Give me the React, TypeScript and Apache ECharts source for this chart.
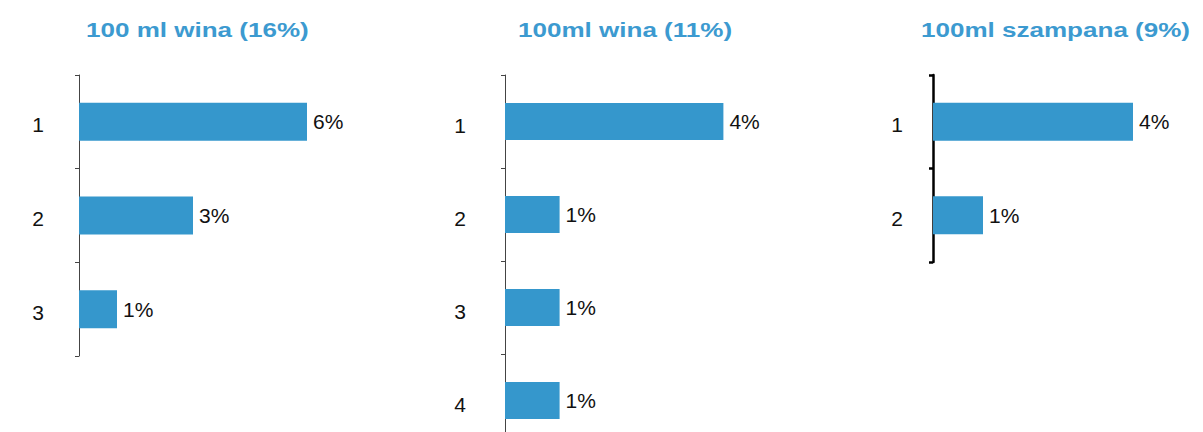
import React, { useEffect, useRef } from "react";
import * as echarts from "echarts";

const titles = ["100 ml wina (16%)", "100ml wina (11%)", "100ml szampana (9%)"];
const categories1 = ["1", "2", "3"];
const values1 = [6, 3, 1];
const categories2 = ["1", "2", "3", "4"];
const values2 = [4, 1, 1, 1];
const categories3 = ["1", "2"];
const values3 = [4, 1];

const BAR = "#3597CC";
const TITLE = "#3C9AD0";
const FONT = '"Liberation Sans", Arial, sans-serif';

export default function App() {
  const ref = useRef<HTMLDivElement>(null);
  useEffect(() => {
    if (!ref.current) return;
    const chart = echarts.init(ref.current, undefined, { renderer: "svg" });

    const panels = [
      { cats: categories1, vals: values1, left: 79, width: 304, max: 8, height: 281, barWidth: 38, margin: 35, shift: 3, lineColor: "#444", lineWidth: 1, titleX: 86 },
      { cats: categories2, vals: values2, left: 505, width: 273, max: 5, height: 372, barWidth: 37, margin: 39, shift: 4, lineColor: "#444", lineWidth: 1, titleX: 518 },
      { cats: categories3, vals: values3, left: 933, width: 250, max: 5, height: 187, barWidth: 38, margin: 30, shift: 3, lineColor: "#000", lineWidth: 2.5, titleX: 921 },
    ];

    const option: any = {
      animation: false,
      backgroundColor: "#fff",
      grid: panels.map((p) => ({
        left: p.left,
        top: 75,
        width: p.width,
        height: p.height,
        containLabel: false,
        outerBoundsMode: "none",
      })),
      xAxis: panels.map((p, i) => ({ type: "value", gridIndex: i, min: 0, max: p.max, show: false })),
      yAxis: panels.map((p, i) => ({
        type: "category",
        gridIndex: i,
        inverse: true,
        data: p.cats,
        axisLine: { show: true, lineStyle: { color: p.lineColor, width: p.lineWidth } },
        axisTick: { show: true, length: 4, lineStyle: { color: p.lineColor, width: p.lineWidth } },
        axisLabel: {
          fontSize: 21,
          fontFamily: FONT,
          color: "#111",
          margin: p.margin,
          verticalAlign: "top",
          lineHeight: p.shift * 2,
        },
        splitLine: { show: false },
      })),
      series: panels.map((p, i) => ({
        type: "bar",
        xAxisIndex: i,
        yAxisIndex: i,
        data: p.vals,
        barWidth: p.barWidth,
        itemStyle: { color: BAR },
        label: {
          show: true,
          position: "right",
          distance: 6,
          formatter: "{c}%",
          fontSize: 21,
          fontFamily: FONT,
          color: "#111",
        },
      })),
      graphic: panels.map((p, i) => ({
        type: "text",
        x: p.titleX,
        y: 29.5,
        scaleX: 1.24,
        style: {
          text: titles[i],
          fontSize: 21,
          fontWeight: "bold",
          fontFamily: FONT,
          fill: TITLE,
          textVerticalAlign: "middle",
          verticalAlign: "middle",
        },
      })),
    };
    chart.setOption(option);
    return () => chart.dispose();
  }, []);
  return (
    <div
      ref={ref}
      style={{ position: "absolute", left: 0, top: 0, width: 1203, height: 432 }}
    />
  );
}
